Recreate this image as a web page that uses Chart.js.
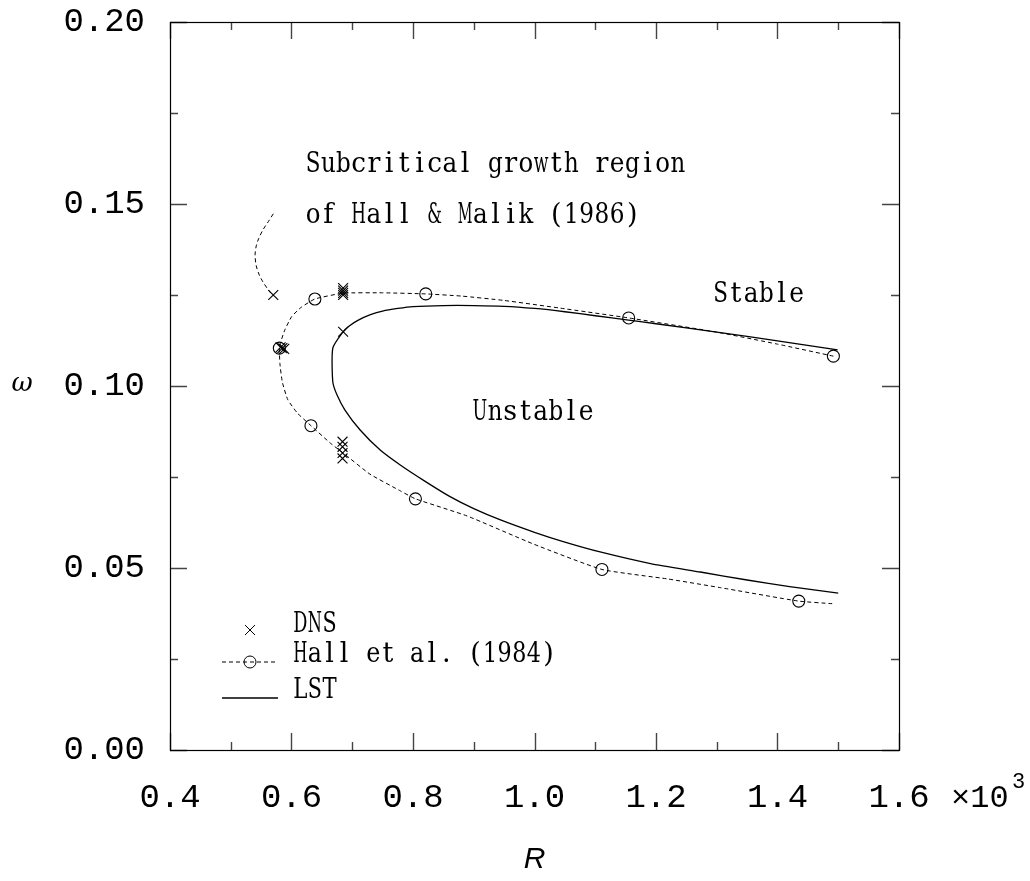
<!DOCTYPE html>
<html>
<head>
<meta charset="utf-8">
<title>Neutral curve: R versus omega</title>
<script src="https://cdn.jsdelivr.net/npm/chart.js@4.4.1/dist/chart.umd.min.js"></script>
<style>
  html, body { margin: 0; padding: 0; background: #ffffff; }
  #wrap { width: 1030px; height: 881px; position: relative; }
</style>
</head>
<body>
<div id="wrap"><canvas id="c"></canvas></div>
<script>
// Linear stability theory neutral curve (R in units of 10^3, omega)
const lstR = [1.499, 1.40, 1.30, 1.20, 1.155, 1.10, 1.05, 1.00, 0.95, 0.90,
              0.85, 0.80, 0.775, 0.75, 0.73, 0.71, 0.695, 0.685, 0.668, 0.668,
              0.675, 0.688, 0.713, 0.746, 0.779, 0.82, 0.861, 0.90,
              0.944, 1.00, 1.05, 1.108, 1.191, 1.273, 1.35, 1.42, 1.50];
const lstW = [0.1099, 0.1124, 0.1148, 0.1171, 0.1181, 0.1193, 0.1204, 0.1213, 0.1219, 0.1221,
              0.1221, 0.1218, 0.1213, 0.1206, 0.1196, 0.1181, 0.1165, 0.1149, 0.1104, 0.1011,
              0.0975, 0.0934, 0.0879, 0.0824, 0.0783, 0.0738, 0.0696, 0.0663,
              0.0632, 0.0598, 0.0571, 0.0544, 0.0512, 0.0489, 0.0467, 0.0449, 0.0431];

// Hall et al. (1984) neutral curve
const hallCurveR = [1.492, 1.40, 1.30, 1.155, 1.042, 0.95, 0.88, 0.821, 0.75, 0.685,
                    0.6385, 0.615, 0.600, 0.589, 0.582, 0.580, 0.581, 0.585, 0.594, 0.610,
                    0.632, 0.664, 0.685, 0.729, 0.779, 0.804, 0.889, 0.998, 1.111, 1.219,
                    1.306, 1.435, 1.49];
const hallCurveW = [0.1082, 0.1115, 0.1148, 0.1187, 0.1214, 0.1235, 0.1247, 0.1253, 0.1256, 0.1255,
                    0.1239, 0.1215, 0.1190, 0.1154, 0.1120, 0.1104, 0.1060, 0.1010, 0.0962, 0.0925,
                    0.0891, 0.0843, 0.0816, 0.0758, 0.0712, 0.0690, 0.0643, 0.0566, 0.0496, 0.0470,
                    0.0446, 0.0409, 0.0402];

// Hall et al. (1984) tabulated points
const hallPtsR = [0.6385, 0.821, 1.155, 1.492, 0.580, 0.632, 0.804, 1.111, 1.435];
const hallPtsW = [0.1239, 0.1253, 0.1187, 0.1082, 0.1104, 0.0891, 0.0690, 0.0496, 0.0409];

// DNS runs
const dnsR = [0.570, 0.582, 0.585, 0.588, 0.685, 0.685, 0.685, 0.685, 0.685, 0.684, 0.684, 0.684, 0.684];
const dnsW = [0.1250, 0.1106, 0.1104, 0.1102, 0.1269, 0.1262, 0.1256, 0.1250, 0.1149, 0.0847, 0.0833, 0.0816, 0.0801];

// Boundary of the subcritical growth region of Hall & Malik (1986)
const subR = [0.570, 0.562, 0.553, 0.546, 0.542, 0.540, 0.542, 0.547, 0.553, 0.561, 0.570];
const subW = [0.1473, 0.1452, 0.1429, 0.1405, 0.1385, 0.1360, 0.1330, 0.1305, 0.1286, 0.1266, 0.1247];

// Axis tick labels
const xTickLabels = ['0.4', '0.6', '0.8', '1.0', '1.2', '1.4', '1.6'];
const yTickLabels = ['0.00', '0.05', '0.10', '0.15', '0.20'];

// Text
const legendLabels = ['DNS', 'Hall et al. (1984)', 'LST'];
const regionLabels = ['Subcritical growth region', 'of Hall & Malik (1986)', 'Stable', 'Unstable'];
const xTitle = 'R';
const yTitle = '\u03C9';

const pts = (xs, ys) => xs.map((x, i) => ({ x: x, y: ys[i] }));

const MONO = '"Liberation Mono", "DejaVu Sans Mono", monospace';
const SERIF = '"DejaVu Serif", serif';

// Typewriter-style text: each glyph centred in a fixed-width cell,
// wide glyphs squeezed to fit the cell.
function typeText(ctx, str, x, y, pitch) {
  ctx.save();
  ctx.font = '27px ' + SERIF;
  ctx.textBaseline = 'alphabetic';
  ctx.textAlign = 'center';
  const maxW = pitch * 0.97;
  for (let i = 0; i < str.length; i++) {
    const ch = str[i];
    if (ch === ' ') continue;
    const w = ctx.measureText(ch).width;
    const s = Math.min(1, maxW / w);
    ctx.save();
    ctx.translate(x + (i + 0.5) * pitch, y);
    ctx.scale(s, 1);
    ctx.fillText(ch, 0, 0);
    ctx.restore();
  }
  ctx.restore();
}

// Frame, inward ticks on all sides, legend and labels
const decorations = {
  id: 'decorations',
  afterDraw(chart) {
    const ctx = chart.ctx;
    const xs = chart.scales.x, ys = chart.scales.y;
    const a = chart.chartArea;
    ctx.save();

    // ticks
    ctx.strokeStyle = '#444';
    ctx.lineWidth = 1.4;
    ctx.beginPath();
    for (let i = 4; i <= 16; i++) {
      const px = Math.round(xs.getPixelForValue(i / 10)) + 0.5;
      const len = (i % 2 === 0) ? 17 : 8;
      ctx.moveTo(px, a.bottom); ctx.lineTo(px, a.bottom - len);
      ctx.moveTo(px, a.top); ctx.lineTo(px, a.top + len);
    }
    for (let j = 0; j <= 8; j++) {
      const py = Math.round(ys.getPixelForValue(j * 0.025)) + 0.5;
      const len = (j % 2 === 0) ? 17 : 8;
      ctx.moveTo(a.left, py); ctx.lineTo(a.left + len, py);
      ctx.moveTo(a.right, py); ctx.lineTo(a.right - len, py);
    }
    ctx.stroke();

    // frame
    ctx.strokeStyle = '#000';
    ctx.lineWidth = 1.2;
    ctx.strokeRect(a.left + 0.5, a.top + 0.5, a.right - a.left, a.bottom - a.top);

    ctx.fillStyle = '#000';

    // region labels anchored in data space
    const anchors = [[0.623, 0.1588], [0.623, 0.1448], [1.294, 0.1231], [0.8975, 0.0907]];
    regionLabels.forEach((t, k) => {
      typeText(ctx, t, xs.getPixelForValue(anchors[k][0]), ys.getPixelForValue(anchors[k][1]), 15.2);
    });

    // legend
    const lx = a.left + 52, tx = a.left + 123;
    const rows = [632, 662, 698];
    legendLabels.forEach((t, k) => typeText(ctx, t, tx, rows[k], 14.6));
    ctx.strokeStyle = '#000';
    ctx.lineWidth = 1;
    // DNS symbol
    ctx.beginPath();
    const cx = lx + 28, cy = rows[0] - 2;
    ctx.moveTo(cx - 5, cy - 5); ctx.lineTo(cx + 5, cy + 5);
    ctx.moveTo(cx + 5, cy - 5); ctx.lineTo(cx - 5, cy + 5);
    ctx.stroke();
    // Hall symbol
    ctx.setLineDash([4, 3]);
    ctx.beginPath(); ctx.moveTo(lx, rows[1]); ctx.lineTo(lx + 56, rows[1]); ctx.stroke();
    ctx.setLineDash([]);
    ctx.beginPath(); ctx.arc(lx + 28, rows[1], 6, 0, Math.PI * 2); ctx.stroke();
    // LST symbol
    ctx.lineWidth = 1.3;
    ctx.beginPath(); ctx.moveTo(lx, rows[2]); ctx.lineTo(lx + 56, rows[2]); ctx.stroke();

    // axis multiplier
    ctx.font = '32px ' + MONO;
    ctx.textAlign = 'left';
    ctx.textBaseline = 'alphabetic';
    ctx.fillText('\u00D710', a.right + 52, 807);
    ctx.font = '22px ' + MONO;
    ctx.fillText('3', a.right + 113, 788);

    // axis titles
    ctx.textAlign = 'center';
    ctx.textBaseline = 'middle';
    ctx.font = 'italic 30px "Liberation Sans", sans-serif';
    ctx.fillText(xTitle, (a.left + a.right) / 2, 860);
    ctx.font = 'italic 26px "DejaVu Serif", serif';
    ctx.fillText(yTitle, 22, 384);

    ctx.restore();
  }
};

new Chart(document.getElementById('c'), {
  type: 'scatter',
  data: {
    datasets: [
      { label: 'LST', data: pts(lstR, lstW), showLine: true, borderColor: '#000', borderWidth: 1.3,
        pointRadius: 0, tension: 0.2, fill: false },
      { label: 'Hall et al. (1984) curve', data: pts(hallCurveR, hallCurveW), showLine: true, borderColor: '#000',
        borderWidth: 1, borderDash: [4, 3], pointRadius: 0, tension: 0.15, fill: false },
      { label: 'Subcritical boundary', data: pts(subR, subW), showLine: true, borderColor: '#000',
        borderWidth: 1, borderDash: [4, 3], pointRadius: 0, tension: 0.3, fill: false },
      { label: 'Hall et al. (1984)', data: pts(hallPtsR, hallPtsW), showLine: false, pointStyle: 'circle',
        pointRadius: 6, borderColor: '#000', borderWidth: 1.1, backgroundColor: 'rgba(0,0,0,0)' },
      { label: 'DNS', data: pts(dnsR, dnsW), showLine: false, pointStyle: 'crossRot',
        pointRadius: 7, borderColor: '#000', borderWidth: 1.1 }
    ]
  },
  options: {
    responsive: true,
    maintainAspectRatio: false,
    animation: false,
    events: [],
    layout: { padding: { left: 0, top: 22, right: 131, bottom: 0 } },
    plugins: { legend: { display: false }, tooltip: { enabled: false } },
    scales: {
      x: {
        type: 'linear', min: 0.4, max: 1.6,
        afterFit: s => { s.height = 131; s.paddingLeft = 0; s.paddingRight = 0; },
        grid: { display: false, drawTicks: false },
        border: { display: false },
        ticks: {
          stepSize: 0.2, padding: 28, color: '#000', maxRotation: 0,
          font: { family: MONO, size: 34 },
          callback: (v, i) => xTickLabels[i]
        }
      },
      y: {
        type: 'linear', min: 0, max: 0.2,
        afterFit: s => { s.width = 170; s.paddingTop = 0; s.paddingBottom = 0; },
        grid: { display: false, drawTicks: false },
        border: { display: false },
        ticks: {
          stepSize: 0.05, padding: 25, color: '#000',
          font: { family: MONO, size: 34 },
          callback: (v, i) => yTickLabels[i]
        }
      }
    }
  },
  plugins: [decorations]
});
</script>
</body>
</html>
